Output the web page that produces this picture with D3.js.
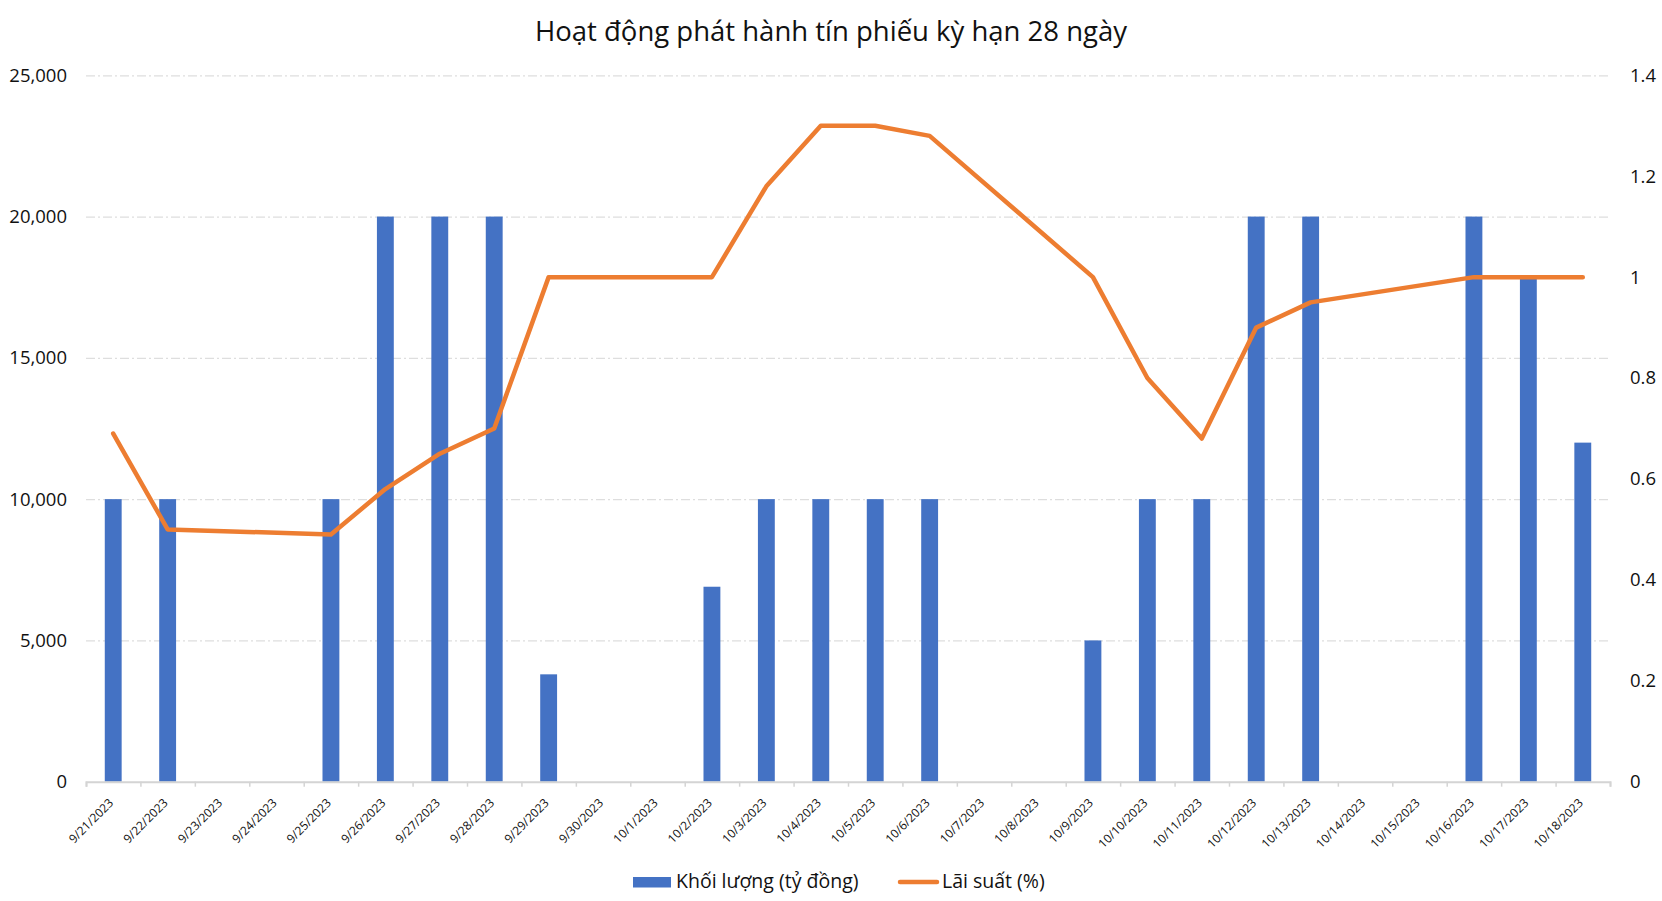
<!DOCTYPE html>
<html>
<head>
<meta charset="utf-8">
<script src="https://cdn.jsdelivr.net/npm/d3@7"></script>
<style>
  body { margin: 0; background: #fff; }
  text { font-family: "Open Sans", sans-serif; fill: #111; }
</style>
</head>
<body>
<div id="chart"></div>
<script>
// data
var dates = ["9/21/2023","9/22/2023","9/23/2023","9/24/2023","9/25/2023","9/26/2023","9/27/2023",
  "9/28/2023","9/29/2023","9/30/2023","10/1/2023","10/2/2023","10/3/2023","10/4/2023","10/5/2023",
  "10/6/2023","10/7/2023","10/8/2023","10/9/2023","10/10/2023","10/11/2023","10/12/2023","10/13/2023",
  "10/14/2023","10/15/2023","10/16/2023","10/17/2023","10/18/2023"];

var volume = [10000, 10000, null, null, 10000, 20000, 20000, 20000, 3800, null, null, 6900, 10000, 10000,
  10000, 10000, null, null, 5000, 10000, 10000, 20000, 20000, null, null, 20000, 17800, 12000];

var rate = [0.69, 0.50, null, null, 0.49, 0.58, 0.65, 0.70, 1.00, null, null, 1.00, 1.18, 1.30,
  1.30, 1.28, null, null, 1.00, 0.80, 0.68, 0.90, 0.95, null, null, 1.00, 1.00, 1.00];

var leftTicks = [0, 5000, 10000, 15000, 20000, 25000];
var rightTicks = [0, 0.2, 0.4, 0.6, 0.8, 1, 1.2, 1.4];

var title = "Hoạt động phát hành tín phiếu kỳ hạn 28 ngày";
var seriesNames = ["Khối lượng (tỷ đồng)", "Lãi suất (%)"];

var W = 1662, H = 901;
var margin = {top: 75.3, right: 52, bottom: 119.3, left: 86},
    width = W - margin.left - margin.right,
    height = H - margin.top - margin.bottom;

var svg = d3.select("#chart").append("svg")
    .attr("width", W)
    .attr("height", H)
    .style("display", "block");

var g = svg.append("g")
    .attr("transform", "translate(" + margin.left + "," + margin.top + ")");

var x = d3.scaleBand().domain(dates).range([0, width]).paddingInner(0.69).paddingOuter(0.345),
    xi = d3.scaleLinear().domain([0, dates.length]).range([0, width]),
    yL = d3.scaleLinear().domain([0, 25000]).range([height, 0]),
    yR = d3.scaleLinear().domain([0, 1.4]).range([height, 0]);

// gridlines
g.append("g")
    .attr("class", "grid")
    .call(d3.axisLeft(yL).tickValues(leftTicks.slice(1)).tickSize(-width).tickFormat(""))
    .call(function(s) { s.select(".domain").remove(); })
    .selectAll("line")
      .attr("stroke", "#dedede")
      .attr("stroke-width", 1.2)
      .attr("stroke-dasharray", "9,3,2,3");

// bars
g.append("g")
  .selectAll("rect")
  .data(dates.map(function(d, i) { return {date: d, v: volume[i]}; }).filter(function(d) { return d.v != null; }))
  .enter().append("rect")
    .attr("x", function(d) { return x(d.date); })
    .attr("y", function(d) { return yL(d.v); })
    .attr("width", x.bandwidth())
    .attr("height", function(d) { return height - yL(d.v); })
    .attr("fill", "#4472C4");

// x axis: line + tick marks on category edges
g.append("g")
    .attr("transform", "translate(0," + height + ")")
    .call(d3.axisBottom(xi).tickValues(d3.range(dates.length + 1)).tickSize(5).tickFormat(""))
    .call(function(s) {
      s.select(".domain").attr("stroke", "#d4d4d4").attr("stroke-width", 2);
      s.selectAll(".tick line").attr("stroke", "#d4d4d4").attr("stroke-width", 1.5);
    });

// x labels
g.append("g")
    .attr("transform", "translate(0," + height + ")")
    .call(d3.axisBottom(x).tickSize(0).tickPadding(0))
    .call(function(s) {
      s.select(".domain").remove();
      s.selectAll("text")
        .attr("font-size", "12px")
        .attr("y", 0)
        .attr("dy", 0)
        .style("text-anchor", "end")
        .attr("transform", "translate(1,22) rotate(-45)");
    });

// left axis
g.append("g")
    .call(d3.axisLeft(yL).tickValues(leftTicks).tickSize(0).tickPadding(19).tickFormat(d3.format(",")))
    .call(function(s) {
      s.select(".domain").remove();
      s.selectAll("text").attr("font-size", "18.5px");
    });

// right axis
g.append("g")
    .attr("transform", "translate(" + width + ",0)")
    .call(d3.axisRight(yR).tickValues(rightTicks).tickSize(0).tickPadding(20)
      .tickFormat(function(d) { return String(+d.toFixed(1)); }))
    .call(function(s) {
      s.select(".domain").remove();
      s.selectAll("text").attr("font-size", "18.5px");
    });

// line (gaps on empty days are bridged, as in the source chart)
var pts = dates.map(function(d, i) { return {date: d, v: rate[i]}; }).filter(function(d) { return d.v != null; });

g.append("path")
    .datum(pts)
    .attr("fill", "none")
    .attr("stroke", "#ED7D31")
    .attr("stroke-width", 4.5)
    .attr("stroke-linejoin", "round")
    .attr("stroke-linecap", "round")
    .attr("d", d3.line()
      .x(function(d) { return x(d.date) + x.bandwidth() / 2; })
      .y(function(d) { return yR(d.v); }));

// title
svg.append("text")
    .attr("x", W / 2)
    .attr("y", 41)
    .attr("text-anchor", "middle")
    .attr("font-size", "27.5px")
    .text(title);

// legend
var lg = svg.append("g").attr("transform", "translate(0,888)");
lg.append("rect")
    .attr("x", 633).attr("y", -11).attr("width", 38).attr("height", 10.5)
    .attr("fill", "#4472C4");
lg.append("text")
    .attr("x", 676).attr("y", 0)
    .attr("font-size", "19.5px")
    .text(seriesNames[0]);
lg.append("line")
    .attr("x1", 900).attr("x2", 937).attr("y1", -6).attr("y2", -6)
    .attr("stroke", "#ED7D31").attr("stroke-width", 4.5).attr("stroke-linecap", "round");
lg.append("text")
    .attr("x", 942).attr("y", 0)
    .attr("font-size", "19.5px")
    .text(seriesNames[1]);
</script>
</body>
</html>
